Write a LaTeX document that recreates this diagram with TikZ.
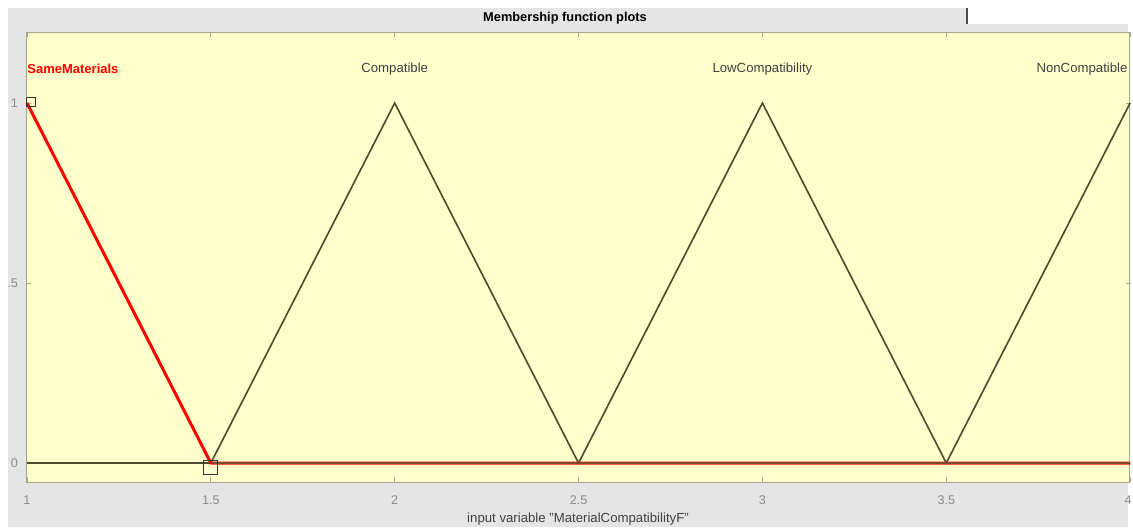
\documentclass[tikz,border=0pt]{standalone}
\usepackage{fontspec}
\setmainfont{Liberation Sans}
\usetikzlibrary{positioning}

\definecolor{plotbg}{HTML}{FFFFCC}
\definecolor{figbg}{HTML}{E5E5E5}
\definecolor{mfdark}{HTML}{4A4A2C}
\definecolor{selzero}{HTML}{7A4A2A}
\definecolor{ticktext}{HTML}{8A8A8A}
\definecolor{axisline}{HTML}{A6A690}

\begin{document}
\begin{tikzpicture}[x=0.5pt, y=-0.5pt,
  mflabel/.style={font=\fontsize{6.6}{8}\selectfont, text=black!75, inner sep=0pt},
  ticklbl/.style={font=\fontsize{6.3}{8}\selectfont, text=ticktext, inner sep=0pt},
  mfline/.style={mfdark, line width=0.8pt},
  tickmark/.style={axisline, line width=0.5pt}]
  \useasboundingbox (0,0) rectangle (1133,527);

  % window background
  \fill[white] (0,0) rectangle (1133,527);
  \fill[figbg] (8,8) rectangle (1128,527);
  \fill[white] (967,0) rectangle (1133,24);
  \draw[black!70, line width=1pt] (967,8) -- (967,24);

  % title
  \node[font=\bfseries\fontsize{6.4}{8}\selectfont, inner sep=0pt] (title) at (565,18) {Membership function plots};

  % plot area
  \fill[plotbg] (26,32) rectangle (1129,482);
  \draw[axisline, line width=0.5pt] (26,32) rectangle (1129,482);

  \begin{scope}[shift={(-170.35pt,-231.5pt)}, x=183.85pt, y=180pt]
    % ticks on x
    \foreach \t in {1, 1.5, 2, 2.5, 3, 3.5, 4} {
      \draw[tickmark] (\t, 1.197) -- (\t, 1.183);
      \draw[tickmark] (\t, -0.053) -- (\t, -0.039);
    }
    \node[ticklbl] (x1) at (1, -0.103) {1};
    \node[ticklbl] (x15) at (1.5, -0.103) {1.5};
    \node[ticklbl] (x2) at (2, -0.103) {2};
    \node[ticklbl] (x25) at (2.5, -0.103) {2.5};
    \node[ticklbl] (x3) at (3, -0.103) {3};
    \node[ticklbl] (x35) at (3.5, -0.103) {3.5};
    \node[ticklbl, anchor=east] (x4) at (4.005, -0.103) {4};

    % ticks on y
    \foreach \u in {0, 0.5, 1} {
      \draw[tickmark] (0.9973, \u) -- (1.011, \u);
      \draw[tickmark] (4.0027, \u) -- (3.989, \u);
    }
    \node[ticklbl, anchor=east] (y0) at (0.976, 0) {0};
    \node[ticklbl, anchor=east] (y05) at (0.976, 0.5) {.5};
    \node[ticklbl, anchor=east] (y1) at (0.976, 1) {1};

    % membership functions
    \draw[mfline] (1,0) -- (4,0);
    \draw[mfline] (1.5,0) -- (2,1) -- (2.5,0) -- (3,1) -- (3.5,0) -- (4,1);

    % selected function SameMaterials
    \draw[red, line width=1.5pt, line join=round] (1,1) -- (1.5,0) -- (4,0);
    \draw[selzero, line width=1.1pt] (1.5,0) -- (4,0);

    % handles
    \node[draw=black!80, line width=0.4pt, minimum size=4.5pt, inner sep=0pt] (h1) at (1.011,1.003) {};
    \node[draw=black!80, line width=0.4pt, minimum size=7pt, inner sep=0pt] (h2) at (1.5,-0.012) {};

    % labels
    \node[mflabel, anchor=west, text=red, font=\bfseries\fontsize{6.5}{8}\selectfont] (same) at (1,1.094) {SameMaterials};
    \node[mflabel] (compat) at (2,1.094) {Compatible};
    \node[mflabel] (lowcompat) at (3,1.094) {LowCompatibility};
    \node[mflabel, anchor=east] (noncompat) at (3.994,1.094) {NonCompatible};
  \end{scope}

  % axis label
  \node[ticklbl, text=black!75, font=\fontsize{6.6}{8}\selectfont] (xlabel) at (578,519) {input variable "MaterialCompatibilityF"};
\end{tikzpicture}
\end{document}
